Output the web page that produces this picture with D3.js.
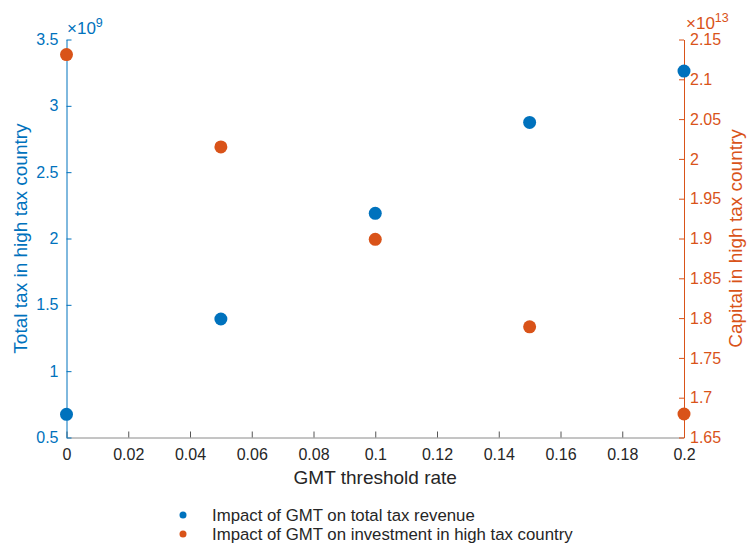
<!DOCTYPE html>
<html>
<head>
<meta charset="utf-8">
<script src="https://cdn.jsdelivr.net/npm/d3@7"></script>
<style>
  html, body { margin: 0; padding: 0; background: #fff; }
  svg { display: block; font-family: "Liberation Sans", Arial, Helvetica, sans-serif; }
</style>
</head>
<body>
<svg id="chart" width="751" height="544"></svg>
<script>
// GMT threshold rates (x)
const rates = [0, 0.05, 0.1, 0.15, 0.2];
// Total tax in high tax country, units of 1e9 (left axis)
const totalTax = [0.675, 1.393, 2.19, 2.875, 3.262];
// Capital in high tax country, units of 1e13 (right axis)
const capital = [2.131, 2.015, 1.899, 1.789, 1.6795];

const xTicks = [0, 0.02, 0.04, 0.06, 0.08, 0.1, 0.12, 0.14, 0.16, 0.18, 0.2];
const xTickLabels = ["0", "0.02", "0.04", "0.06", "0.08", "0.1", "0.12", "0.14", "0.16", "0.18", "0.2"];
const leftTicks = [0.5, 1, 1.5, 2, 2.5, 3, 3.5];
const leftTickLabels = ["0.5", "1", "1.5", "2", "2.5", "3", "3.5"];
const rightTicks = [1.65, 1.7, 1.75, 1.8, 1.85, 1.9, 1.95, 2, 2.05, 2.1, 2.15];
const rightTickLabels = ["1.65", "1.7", "1.75", "1.8", "1.85", "1.9", "1.95", "2", "2.05", "2.1", "2.15"];

const seriesNames = ["Impact of GMT on total tax revenue", "Impact of GMT on investment in high tax country"];

const BLUE = "#0072BD", ORANGE = "#D95319", GREY = "#262626";

const svg = d3.select("#chart");
const plotLeft = 66.5, plotRight = 684, plotTop = 39.5, plotBottom = 437.5;

const x = d3.scaleLinear().domain([0, 0.2]).range([plotLeft, plotRight]);
const yL = d3.scaleLinear().domain([0.5, 3.5]).range([plotBottom, plotTop]);
const yR = d3.scaleLinear().domain([1.65, 2.15]).range([plotBottom, plotTop]);

const tickFont = 16;
const titleFont = 19;

// x axis, ticks pointing inward
const gx = svg.append("g")
  .attr("transform", `translate(0,${plotBottom})`)
  .call(d3.axisBottom(x).tickValues(xTicks)
    .tickFormat((d, i) => xTickLabels[i])
    .tickSizeInner(-6).tickSizeOuter(0).tickPadding(0));
gx.select(".domain").attr("stroke", "#8a8a8a");
gx.selectAll(".tick line").attr("stroke", "#555");
gx.selectAll("text").attr("dy", null).attr("y", 22.5)
  .attr("fill", GREY).style("font-size", tickFont + "px");

// left axis
const gl = svg.append("g")
  .attr("transform", `translate(${plotLeft},0)`)
  .call(d3.axisLeft(yL).tickValues(leftTicks)
    .tickFormat((d, i) => leftTickLabels[i])
    .tickSizeInner(-5).tickSizeOuter(0).tickPadding(8));
gl.select(".domain").attr("stroke", BLUE);
gl.selectAll(".tick line").attr("stroke", BLUE);
gl.selectAll("text").attr("fill", BLUE).style("font-size", tickFont + "px");

// right axis
const gr = svg.append("g")
  .attr("transform", `translate(${plotRight},0)`)
  .call(d3.axisRight(yR).tickValues(rightTicks)
    .tickFormat((d, i) => rightTickLabels[i])
    .tickSizeInner(-5).tickSizeOuter(0).tickPadding(6));
gr.select(".domain").attr("stroke", ORANGE);
gr.selectAll(".tick line").attr("stroke", ORANGE);
gr.selectAll("text").attr("fill", ORANGE).style("font-size", tickFont + "px");
svg.selectAll(".domain").attr("stroke-width", 1);

// exponent labels
const expL = svg.append("text").attr("x", 67).attr("y", 34).attr("fill", BLUE).style("font-size", "17px");
expL.append("tspan").text("×10");
expL.append("tspan").attr("dy", -7).style("font-size", "12.5px").text("9");

const expR = svg.append("text").attr("x", 686).attr("y", 28.5).attr("fill", ORANGE).style("font-size", "17px");
expR.append("tspan").text("×10");
expR.append("tspan").attr("dy", -7).style("font-size", "12.5px").text("13");

// axis titles
svg.append("text")
  .attr("transform", `translate(27,${(plotTop + plotBottom) / 2}) rotate(-90)`)
  .attr("text-anchor", "middle").attr("fill", BLUE).style("font-size", titleFont + "px")
  .text("Total tax in high tax country");

svg.append("text")
  .attr("transform", `translate(742,${(plotTop + plotBottom) / 2}) rotate(-90)`)
  .attr("text-anchor", "middle").attr("fill", ORANGE).style("font-size", titleFont + "px")
  .text("Capital in high tax country");

svg.append("text")
  .attr("x", (plotLeft + plotRight) / 2).attr("y", 484)
  .attr("text-anchor", "middle").attr("fill", GREY).style("font-size", titleFont + "px")
  .text("GMT threshold rate");

// scatter markers
svg.append("g").selectAll("circle").data(rates).join("circle")
  .attr("cx", d => x(d)).attr("cy", (d, i) => yR(capital[i]))
  .attr("r", 6.5).attr("fill", ORANGE);

svg.append("g").selectAll("circle").data(rates).join("circle")
  .attr("cx", d => x(d)).attr("cy", (d, i) => yL(totalTax[i]))
  .attr("r", 6.5).attr("fill", BLUE);

// legend
const legend = svg.append("g");
[BLUE, ORANGE].forEach((c, i) => {
  const ly = 515 + i * 19;
  legend.append("circle").attr("cx", 183).attr("cy", ly).attr("r", 3.5).attr("fill", c);
  legend.append("text").attr("x", 212).attr("y", ly + 6)
    .attr("fill", GREY).style("font-size", "16.8px").text(seriesNames[i]);
});
</script>
</body>
</html>
